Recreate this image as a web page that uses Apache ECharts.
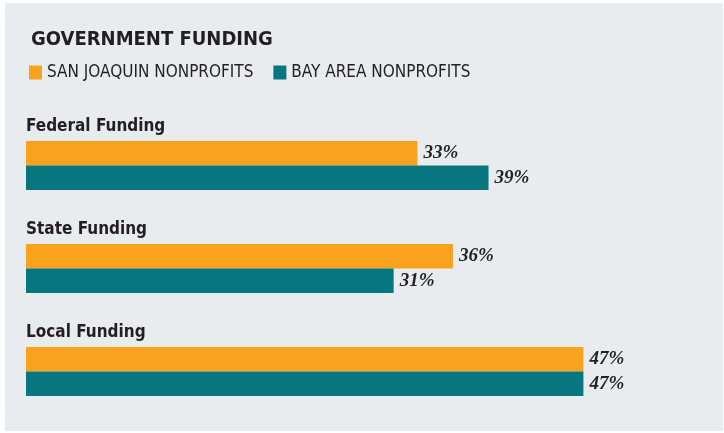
<!DOCTYPE html>
<html>
<head>
<meta charset="utf-8">
<script src="https://cdn.jsdelivr.net/npm/echarts@6/dist/echarts.min.js"></script>
<style>
body {
  margin: 0px;
  padding: 0px;
  background: #ffffff;
}
#panel {
  position: absolute;
  left: 5px;
  top: 3px;
  right: 1px;
  bottom: 2px;
  background: #e9ecef;
}
#chart {
  position: absolute;
  left: 0;
  top: 0;
  width: 724px;
  height: 433px;
}
</style>
</head>
<body>
<div id="panel"></div>
<div id="chart"></div>
<script>
// data
const categories = ["Federal Funding", "State Funding", "Local Funding"];
const seriesNames = ["SAN JOAQUIN NONPROFITS", "BAY AREA NONPROFITS"];
const sanJoaquin = [33, 36, 47];
const bayArea = [39, 31, 47];

const narrow = "'Liberation Sans Narrow', 'DejaVu Sans Condensed', 'Roboto', sans-serif";
const serif = "'Liberation Serif', 'DejaVu Serif', serif";
const ink = "#231f20";

let valueLabel = {
  show: true,
  position: "right",
  distance: 6,
  formatter: "{c}%",
  fontFamily: serif,
  fontStyle: "italic",
  fontWeight: "bold",
  fontSize: 19,
  color: ink,
};

let option = {
  animation: false,
  title: {
    text: "GOVERNMENT FUNDING",
    left: 26,
    top: 25,
    textStyle: {
      fontFamily: narrow,
      fontWeight: "bold",
      fontSize: 20,
      color: ink,
    },
  },
  legend: {
    left: 29,
    top: 64,
    padding: 0,
    icon: "rect",
    itemWidth: 13,
    itemHeight: 14,
    itemGap: 20,
    textStyle: {
      fontFamily: narrow,
      fontSize: 17,
      color: ink,
    },
    data: seriesNames,
  },
  grid: {
    left: 26,
    right: 105,
    top: 114,
    bottom: 10,
  },
  xAxis: {
    type: "value",
    min: 0,
    max: 50,
    show: false,
  },
  yAxis: {
    type: "category",
    inverse: true,
    data: categories,
    axisLine: { show: false },
    axisTick: { show: false },
    axisLabel: {
      inside: true,
      margin: 0,
      align: "left",
      verticalAlign: "bottom",
      lineHeight: 26,
      // push the name above its pair of bars
      formatter: (v) => v + "\n ",
      fontFamily: narrow,
      fontWeight: "bold",
      fontSize: 17,
      color: ink,
    },
  },
  series: [
    {
      name: seriesNames[0],
      type: "bar",
      data: sanJoaquin,
      barWidth: 24.5,
      barGap: "0%",
      itemStyle: { color: "#f8a21e" },
      label: valueLabel,
    },
    {
      name: seriesNames[1],
      type: "bar",
      data: bayArea,
      barWidth: 24.5,
      barGap: "0%",
      itemStyle: { color: "#07767f" },
      label: valueLabel,
    },
  ],
};

let chart = echarts.init(document.querySelector("#chart"));
chart.setOption(option);
</script>
</body>
</html>
